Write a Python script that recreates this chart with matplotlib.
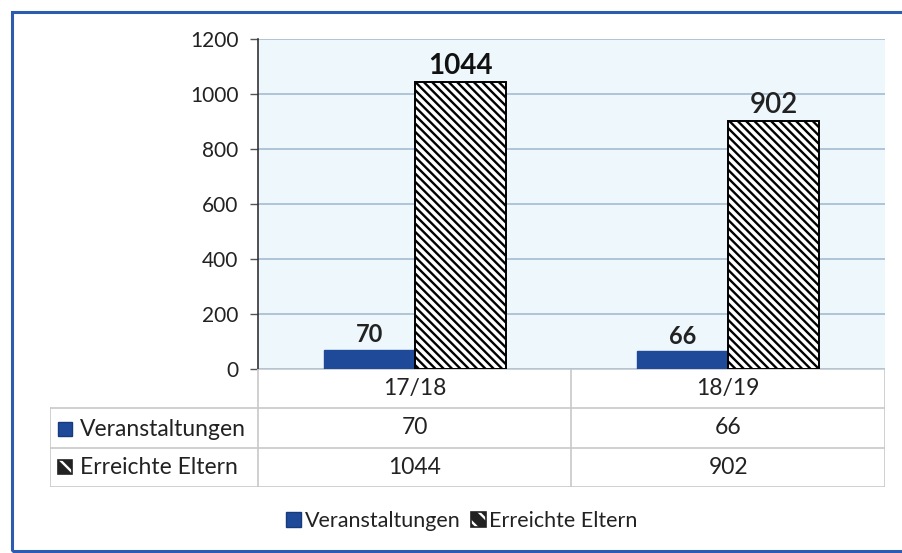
import matplotlib
matplotlib.use("Agg")
import matplotlib.pyplot as plt
from matplotlib.patches import Rectangle, Patch
import numpy as np

# data
jahre = ["17/18", "18/19"]
veranstaltungen = [70, 66]
eltern = [1044, 902]
serien = ["Veranstaltungen", "Erreichte Eltern"]
y_ticks = [0, 200, 400, 600, 800, 1000, 1200]

W, H = 903, 553
blau = "#1F4A9A"
plt.rcParams["font.family"] = ["Lato", "DejaVu Sans"]
plt.rcParams["hatch.linewidth"] = 1.7


def fx(x):
    return x / W


def fy(y):
    return 1 - y / H


fig = plt.figure(figsize=(W / 100, H / 100), dpi=100)
fig.patch.set_facecolor("white")

# blue frame round the whole chart (right side runs off the picture)
fig.add_artist(Rectangle((fx(12), fy(551)), fx(915) - fx(12), fy(12) - fy(551),
                         transform=fig.transFigure, fill=False,
                         edgecolor="#2B5CB0", lw=2.2))

# main plot area
ax = fig.add_axes([fx(258), fy(369), fx(885) - fx(258), fy(39) - fy(369)])
ax.set_facecolor("#EEF7FC")
x = np.arange(len(jahre))
bw = 0.29
ax.bar(x - bw / 2, veranstaltungen, bw, color=blau, edgecolor=blau, zorder=3)
ax.bar(x + bw / 2, eltern, bw, color="white", edgecolor="black", lw=1.4,
       hatch="\\\\\\\\", zorder=3)
ax.set_xlim(-0.5, 1.5)
ax.set_ylim(0, 1200)
ax.set_yticks(y_ticks)
ax.set_yticklabels([str(v) for v in y_ticks], fontsize=15, color="#222222")
ax.set_xticks([])
ax.tick_params(axis="y", length=6, width=1, color="#555555", pad=8)
ax.yaxis.grid(True, color="#9FB6CF", lw=1.1, zorder=0)
for s in ["top", "right", "bottom"]:
    ax.spines[s].set_visible(False)
ax.spines["left"].set_color("#333333")
ax.spines["left"].set_linewidth(1.2)

# value labels above the bars
for i, v in enumerate(veranstaltungen):
    ax.text(x[i] - bw / 2, v + 12, str(v), ha="center", va="bottom",
            fontsize=17, fontweight="bold", color="#222222")
ax.text(x[0] + bw / 2, eltern[0] + 10, str(eltern[0]), ha="center", va="bottom",
        fontsize=20, fontweight="bold", color="#111111")
ax.text(x[1] + bw / 2, eltern[1] + 10, str(eltern[1]), ha="center", va="bottom",
        fontsize=20, fontweight="semibold", color="#222222")

# data table below the plot
tx = fig.add_axes([fx(50), fy(487), fx(885) - fx(50), fy(369) - fy(487)])
x_left = -0.5 - (258 - 50) / (627 / 2.0)
tx.set_xlim(x_left, 1.5)
tx.set_ylim(3, 0)
tx.axis("off")
grau = "#C8C8C8"
tx.plot([-0.5, 1.5], [0, 0], color=grau, lw=1.2)
for r in [1, 2, 3]:
    tx.plot([x_left, 1.5], [r, r], color=grau, lw=1.2)
for c in [-0.5, 0.5, 1.5]:
    tx.plot([c, c], [0, 3], color=grau, lw=1.2)
tx.plot([x_left, x_left], [1, 3], color=grau, lw=1.2)

for i, j in enumerate(jahre):
    tx.text(x[i], 0.5, j, ha="center", va="center", fontsize=16.5, color="#222222")
    tx.text(x[i], 1.5, str(veranstaltungen[i]), ha="center", va="center",
            fontsize=16.5, color="#222222")
    tx.text(x[i], 2.5, str(eltern[i]), ha="center", va="center",
            fontsize=16.5, color="#222222")


def hatch_key(x0, y0, size):
    # dark square with a few white diagonals, like the original key
    fig.add_artist(Rectangle((fx(x0), fy(y0 + size)), fx(size), fy(0) - fy(size),
                             transform=fig.transFigure, facecolor="#222222",
                             edgecolor="white", hatch="\\\\", lw=0))
    fig.add_artist(Rectangle((fx(x0), fy(y0 + size)), fx(size), fy(0) - fy(size),
                             transform=fig.transFigure, fill=False,
                             edgecolor="#222222", lw=1.2))


# row labels with keys
for k, name in enumerate(serien):
    yc = 429 + k * 38
    if k == 0:
        fig.add_artist(Rectangle((fx(58), fy(yc + 7)), fx(14), fy(0) - fy(14),
                                 transform=fig.transFigure, facecolor=blau,
                                 edgecolor="#163a7a", lw=1))
    else:
        hatch_key(58, yc - 7, 14)
    fig.text(fx(80), fy(yc), name, ha="left", va="center", fontsize=16.5,
             color="#222222")

# legend at the bottom
handles = [Patch(facecolor=blau, edgecolor="#163a7a", lw=1),
           (Patch(facecolor="#222222", edgecolor="white", hatch="\\\\", lw=0),
            Patch(fill=False, edgecolor="#222222", lw=1.2))]
fig.legend(handles, serien, loc="center", bbox_to_anchor=(fx(462), fy(521)),
           ncol=2, frameon=False, fontsize=15.5, handlelength=0.7,
           handleheight=0.7, handletextpad=0.15, columnspacing=0.5,
           labelcolor="#222222")

fig.savefig("out.png", dpi=100)
